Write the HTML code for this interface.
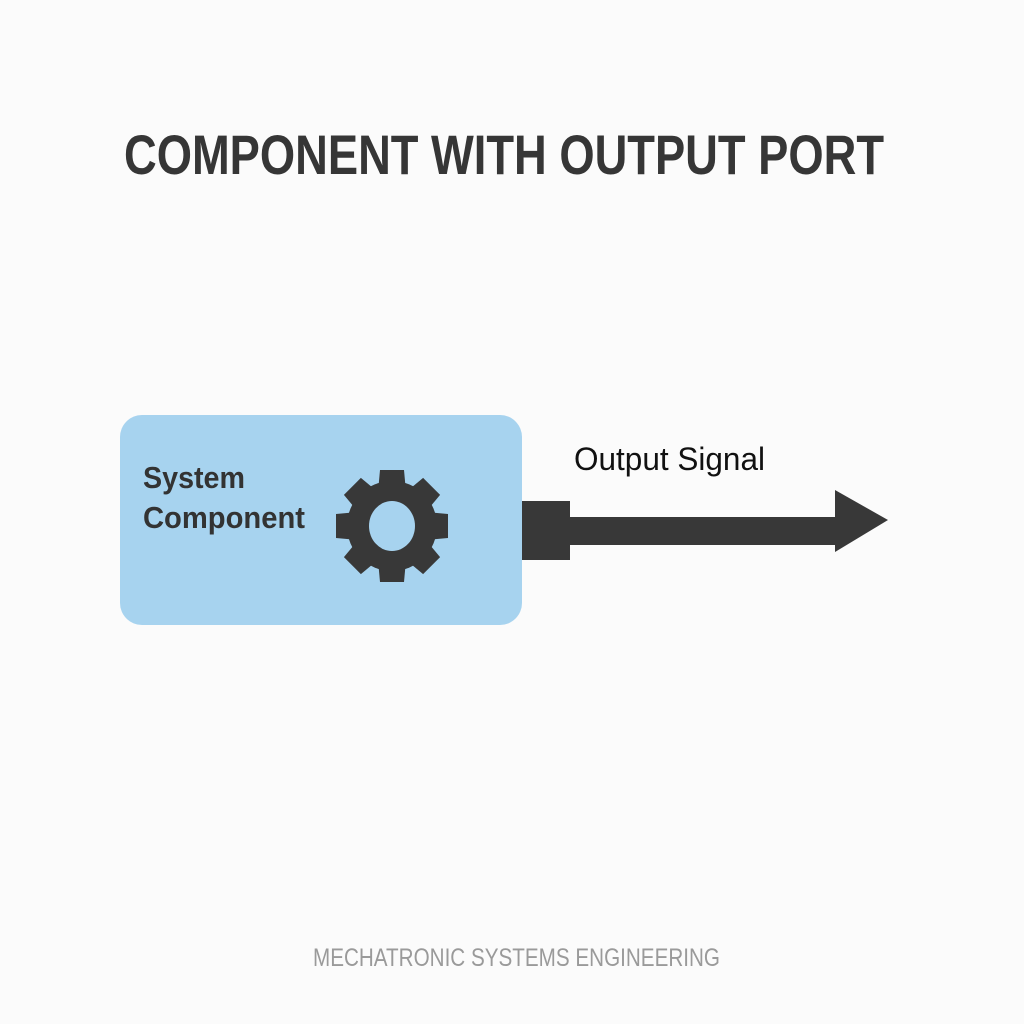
<!DOCTYPE html>
<html><head><meta charset="utf-8"><style>
html,body{margin:0;padding:0;background:#fbfbfb;}
svg{display:block;}
</style></head><body>
<svg width="1024" height="1024" viewBox="0 0 1024 1024" xmlns="http://www.w3.org/2000/svg">
<rect width="1024" height="1024" fill="#fbfbfb"/>
<text x="124" y="174" font-family="Liberation Sans, sans-serif" font-weight="bold" font-size="56" fill="#363636" textLength="760" lengthAdjust="spacingAndGlyphs">COMPONENT WITH OUTPUT PORT</text>
<rect x="120" y="415" width="402" height="210" rx="22" fill="#a7d3ef"/>
<text x="143" y="488" font-family="Liberation Sans, sans-serif" font-weight="bold" font-size="31" fill="#333" textLength="102" lengthAdjust="spacingAndGlyphs">System</text>
<text x="143" y="528" font-family="Liberation Sans, sans-serif" font-weight="bold" font-size="31" fill="#333" textLength="162" lengthAdjust="spacingAndGlyphs">Component</text>
<g transform="translate(392,526)" fill="#383838">
<circle r="45"/>
<polygon points="-12,-56 12,-56 14,-34 -14,-34"/>
<polygon points="-12,-56 12,-56 14,-34 -14,-34" transform="rotate(45)"/>
<polygon points="-12,-56 12,-56 14,-34 -14,-34" transform="rotate(90)"/>
<polygon points="-12,-56 12,-56 14,-34 -14,-34" transform="rotate(135)"/>
<polygon points="-12,-56 12,-56 14,-34 -14,-34" transform="rotate(180)"/>
<polygon points="-12,-56 12,-56 14,-34 -14,-34" transform="rotate(225)"/>
<polygon points="-12,-56 12,-56 14,-34 -14,-34" transform="rotate(270)"/>
<polygon points="-12,-56 12,-56 14,-34 -14,-34" transform="rotate(315)"/>
<ellipse rx="23" ry="25" fill="#a7d3ef"/>
</g>
<rect x="522" y="501" width="48" height="59" fill="#383838"/>
<rect x="568" y="517" width="270" height="28" fill="#383838"/>
<polygon points="835,490 888,520 835,552" fill="#383838"/>
<text x="574" y="470" font-family="Liberation Sans, sans-serif" font-size="32" fill="#111" textLength="191" lengthAdjust="spacingAndGlyphs">Output Signal</text>
<text x="313" y="966" font-family="Liberation Sans, sans-serif" font-size="25" fill="#9a9a9a" textLength="407" lengthAdjust="spacingAndGlyphs">MECHATRONIC SYSTEMS ENGINEERING</text>
</svg>
</body></html>
